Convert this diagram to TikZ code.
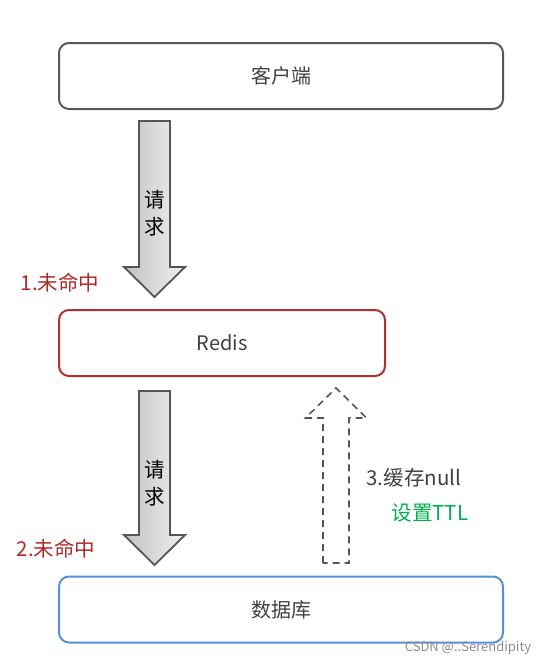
\documentclass[tikz,border=0pt]{standalone}
\usepackage{fontspec}
\setmainfont{Noto Sans CJK SC}
\usetikzlibrary{positioning,calc}

\definecolor{clientline}{HTML}{555A58}
\definecolor{redisline}{HTML}{B03030}
\definecolor{dbline}{HTML}{5B8ED8}
\definecolor{labeltext}{HTML}{404040}
\definecolor{missred}{HTML}{B02A2A}
\definecolor{ttlgreen}{HTML}{00B050}
\definecolor{arrowline}{HTML}{555555}

\tikzset{
  box/.style={draw, rounded corners=10pt, line width=2pt, minimum height=66pt,
    text=labeltext, font=\fontsize{20}{23}\selectfont},
  bigarrow/.style={draw=arrowline, line width=1.8pt, line join=miter,
    left color=black!24, right color=black!6},
  nullarrow/.style={draw=arrowline, line width=1.6pt, dash pattern=on 7pt off 5pt},
  note/.style={font=\fontsize{20.5}{23}\selectfont},
}

\begin{document}
\begin{tikzpicture}[x=1pt,y=1pt]
    \useasboundingbox (0,0) rectangle (547,-665);

    % Boxes
    \node[box, draw=clientline, minimum width=444pt] (client) at (281,-76) {客户端};
    \node[box, draw=redisline, minimum width=326pt] (redis) at (222,-343) {Redis};
    \node[box, draw=dbline, minimum width=444pt] (db) at (281,-609.5) {数据库};

    % Arrow ends
    \coordinate (req1s) at (154.5,-121);
    \coordinate (req1e) at (154.5,-297);
    \coordinate (req2s) at (154.5,-391);
    \coordinate (req2e) at (154.5,-565);
    \coordinate (nulls) at (336,-563);
    \coordinate (nulle) at (336,-388);

    % Request arrows
    \draw[bigarrow] ($(req1s)+(-15.5,0)$) -- ($(req1e)+(-15.5,30)$) -- ($(req1e)+(-30.5,30)$)
        -- (req1e) -- ($(req1e)+(30.5,30)$) -- ($(req1e)+(15.5,30)$) -- ($(req1s)+(15.5,0)$) -- cycle;
    \draw[bigarrow] ($(req2s)+(-15.5,0)$) -- ($(req2e)+(-15.5,30)$) -- ($(req2e)+(-30.5,30)$)
        -- (req2e) -- ($(req2e)+(30.5,30)$) -- ($(req2e)+(15.5,30)$) -- ($(req2s)+(15.5,0)$) -- cycle;
    \node[note, align=center, inner sep=0pt] (req1) at (154.5,-213) {请\\[4pt]求};
    \node[note, align=center, inner sep=0pt] (req2) at (154.5,-483) {请\\[4pt]求};

    % Cache null arrow
    \draw[nullarrow] ($(nulls)+(-13,0)$) -- ($(nulle)+(-13,-30)$) -- ($(nulle)+(-30.5,-30)$)
        -- (nulle) -- ($(nulle)+(30.5,-30)$) -- ($(nulle)+(13,-30)$) -- ($(nulls)+(13,0)$) -- cycle;

    % Labels
    \node[note, text=missred] (miss1) at (60,-283) {1.未命中};
    \node[note, text=missred] (miss2) at (56,-549) {2.未命中};
    \node[note, text=labeltext, anchor=west] (cache) at (363,-478) {3.缓存null};
    \node[note, text=ttlgreen, anchor=west] (ttl) at (388,-513) {设置TTL};
    \node[text=black!45, font=\fontsize{13}{15}\selectfont] (mark) at (468,-648) {CSDN @..Serendipity};
\end{tikzpicture}
\end{document}
